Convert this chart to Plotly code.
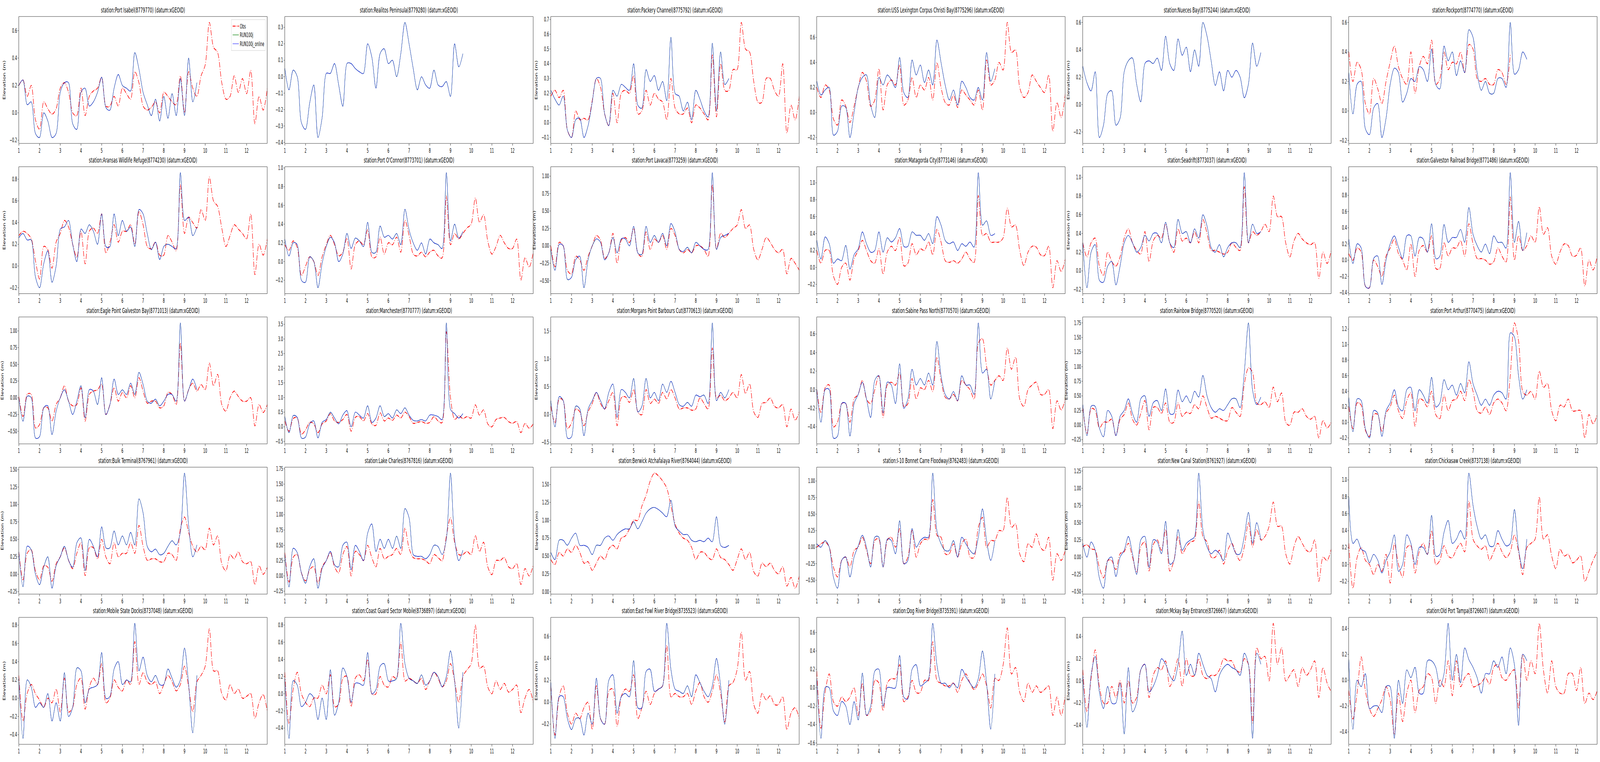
import plotly.graph_objects as go

# time axis (days), obs every 0.2 day up to day 13, model up to ~day 9.7
t_obs = [round(1 + 0.2 * i, 1) for i in range(61)]
t_mod = [round(1 + 0.2 * i, 1) for i in range(44)]

stations = [
    "station:Port Isabel(8779770) (datum:xGEOID)",
    "station:Realitos Peninsula(8779280) (datum:xGEOID)",
    "station:Packery Channel(8775792) (datum:xGEOID)",
    "station:USS Lexington Corpus Christi Bay(8775296) (datum:xGEOID)",
    "station:Nueces Bay(8775244) (datum:xGEOID)",
    "station:Rockport(8774770) (datum:xGEOID)",
    "station:Aransas Wildlife Refuge(8774230) (datum:xGEOID)",
    "station:Port O'Connor(8773701) (datum:xGEOID)",
    "station:Port Lavaca(8773259) (datum:xGEOID)",
    "station:Matagorda City(8773146) (datum:xGEOID)",
    "station:Seadrift(8773037) (datum:xGEOID)",
    "station:Galveston Railroad Bridge(8771486) (datum:xGEOID)",
    "station:Eagle Point Galveston Bay(8771013) (datum:xGEOID)",
    "station:Manchester(8770777) (datum:xGEOID)",
    "station:Morgans Point Barbours Cut(8770613) (datum:xGEOID)",
    "station:Sabine Pass North(8770570) (datum:xGEOID)",
    "station:Rainbow Bridge(8770520) (datum:xGEOID)",
    "station:Port Arthur(8770475) (datum:xGEOID)",
    "station:Bulk Terminal(8767961) (datum:xGEOID)",
    "station:Lake Charles(8767816) (datum:xGEOID)",
    "station:Berwick Atchafalaya River(8764044) (datum:xGEOID)",
    "station:I-10 Bonnet Carre Floodway(8762483) (datum:xGEOID)",
    "station:New Canal Station(8761927) (datum:xGEOID)",
    "station:Chickasaw Creek(8737138) (datum:xGEOID)",
    "station:Mobile State Docks(8737048) (datum:xGEOID)",
    "station:Coast Guard Sector Mobile(8736897) (datum:xGEOID)",
    "station:East Fowl River Bridge(8735523) (datum:xGEOID)",
    "station:Dog River Bridge(8735391) (datum:xGEOID)",
    "station:Mckay Bay Entrance(8726667) (datum:xGEOID)",
    "station:Old Port Tampa(8726607) (datum:xGEOID)",
]

# y tick step per panel
ytick_step = [0.2, 0.1, 0.1, 0.2, 0.2, 0.2,
              0.2, 0.2, 0.25, 0.2, 0.2, 0.2,
              0.25, 0.5, 0.5, 0.2, 0.25, 0.2,
              0.25, 0.25, 0.25, 0.25, 0.25, 0.2,
              0.2, 0.2, 0.2, 0.2, 0.2, 0.2]

port_isabel_obs = [0.20, 0.24, 0.12, 0.20, -0.05, -0.12, 0.08, 0.03, -0.01, 0.03,
                   0.18, 0.22, 0.15, 0.00, -0.02, 0.18, -0.02, 0.12, 0.16, 0.18,
                   0.26, 0.05, 0.05, 0.12, 0.05, 0.18, 0.14, 0.10, 0.30, 0.22,
                   0.05, 0.02, 0.04, 0.08, 0.00, 0.15, 0.12, 0.08, 0.06, 0.27,
                   0.00, 0.30, 0.18, 0.12, 0.27, 0.35, 0.66, 0.48, 0.44, 0.22,
                   0.10, 0.12, 0.27, 0.15, 0.25, 0.14, 0.31, -0.08, 0.12, 0.02,
                   0.18]
port_isabel_mod = [0.20, 0.24, 0.06, 0.08, -0.15, -0.18, 0.00, -0.06, -0.18, -0.15,
                   0.15, 0.22, 0.22, -0.08, -0.12, 0.15, 0.18, 0.05, 0.08, 0.15,
                   0.26, 0.04, 0.02, 0.18, 0.28, 0.20, 0.18, 0.16, 0.44, 0.32,
                   0.15, 0.06, -0.02, 0.10, -0.06, 0.12, -0.04, 0.14, -0.02, 0.25,
                   -0.02, 0.40, 0.08, 0.22]

realitos_obs = []
realitos_mod = [0.05, -0.08, 0.04, 0.00, -0.28, -0.32, -0.16, -0.05, -0.37, -0.25,
                0.02, 0.02, 0.08, -0.05, -0.18, 0.08, 0.08, 0.05, 0.03, 0.02,
                0.20, 0.12, -0.07, 0.14, 0.17, 0.08, 0.10, 0.00, 0.14, 0.33,
                0.20, 0.05, -0.08, 0.00, -0.05, -0.07, 0.04, -0.05, -0.06, -0.03,
                -0.12, 0.20, 0.06, 0.14]

packery_obs = [0.18, 0.22, 0.17, 0.22, -0.05, -0.10, 0.08, 0.02, 0.03, 0.02,
               0.15, 0.30, 0.24, 0.06, -0.02, 0.20, 0.00, 0.20, 0.22, 0.20,
               0.32, 0.06, 0.08, 0.22, 0.12, 0.20, 0.16, 0.14, 0.02, 0.30,
               0.10, 0.06, 0.06, 0.10, 0.00, 0.12, 0.10, 0.06, 0.02, 0.46,
               0.04, 0.40, 0.22, 0.22, 0.36, 0.36, 0.68, 0.50, 0.48, 0.28,
               0.14, 0.14, 0.30, 0.30, 0.22, 0.18, 0.40, -0.07, 0.12, 0.02,
               0.18]
packery_mod = [0.22, 0.16, 0.12, 0.18, -0.05, -0.10, 0.02, 0.03, -0.10, -0.02,
               0.14, 0.30, 0.30, 0.06, -0.02, 0.22, 0.18, 0.26, 0.24, 0.22,
               0.40, 0.12, 0.10, 0.36, 0.28, 0.32, 0.22, 0.28, 0.15, 0.58,
               0.20, 0.18, 0.08, 0.14, 0.02, 0.22, 0.16, 0.08, 0.04, 0.54,
               0.08, 0.48, 0.26, 0.30]

uss_obs = [0.20, 0.12, 0.22, 0.18, -0.05, -0.10, 0.10, 0.05, -0.08, 0.05,
           0.20, 0.32, 0.25, 0.05, 0.10, 0.35, 0.02, 0.22, 0.26, 0.22,
           0.38, 0.06, 0.10, 0.28, 0.12, 0.22, 0.18, 0.28, 0.10, 0.40,
           0.20, 0.08, 0.06, 0.14, 0.04, 0.18, 0.14, 0.10, 0.06, 0.18,
           0.02, 0.42, 0.22, 0.26, 0.40, 0.34, 0.72, 0.48, 0.50, 0.20,
           0.12, 0.16, 0.30, 0.25, 0.20, 0.16, 0.30, -0.15, 0.08, -0.04,
           0.15]
uss_mod = [0.25, 0.14, 0.18, 0.20, -0.18, -0.15, 0.05, 0.04, -0.20, 0.00,
           0.20, 0.28, 0.30, 0.06, -0.04, 0.28, 0.22, 0.30, 0.26, 0.20,
           0.44, 0.16, 0.12, 0.42, 0.30, 0.38, 0.24, 0.34, 0.22, 0.58,
           0.40, 0.22, 0.10, 0.18, 0.06, 0.25, 0.20, 0.12, 0.10, 0.20,
           0.10, 0.48, 0.25, 0.35]

nueces_obs = []
nueces_mod = [0.28, 0.16, 0.10, 0.24, -0.24, -0.15, 0.08, 0.10, -0.15, -0.10,
              0.24, 0.32, 0.34, 0.15, 0.02, 0.30, 0.32, 0.30, 0.34, 0.25,
              0.50, 0.30, 0.25, 0.48, 0.36, 0.42, 0.24, 0.40, 0.28, 0.60,
              0.50, 0.32, 0.14, 0.24, 0.10, 0.25, 0.20, 0.25, 0.20, 0.05,
              0.15, 0.45, 0.28, 0.38]

rockport_obs = [0.40, 0.20, 0.33, 0.28, 0.05, -0.02, 0.22, 0.15, 0.05, 0.20,
                0.33, 0.44, 0.30, 0.22, 0.18, 0.40, 0.12, 0.30, 0.37, 0.32,
                0.48, 0.18, 0.22, 0.40, 0.28, 0.33, 0.32, 0.40, 0.26, 0.45,
                0.42, 0.22, 0.20, 0.22, 0.18, 0.18, 0.28, 0.26, 0.18, 0.38]
rockport_mod = [0.26, -0.02, 0.18, 0.20, -0.12, -0.16, 0.02, 0.05, -0.18, -0.05,
                0.18, 0.29, 0.26, 0.06, 0.12, 0.22, 0.20, 0.30, 0.28, 0.20,
                0.42, 0.18, 0.15, 0.44, 0.34, 0.40, 0.24, 0.34, 0.26, 0.55,
                0.50, 0.26, 0.14, 0.20, 0.12, 0.12, 0.22, 0.22, 0.16, 0.60,
                0.25, 0.28, 0.40, 0.35]

aransas_obs = [0.28, 0.32, 0.30, 0.25, 0.05, -0.12, 0.18, 0.15, -0.02, 0.22,
               0.30, 0.42, 0.36, 0.20, 0.08, 0.32, 0.02, 0.32, 0.35, 0.30,
               0.48, 0.12, 0.22, 0.38, 0.22, 0.32, 0.32, 0.38, 0.20, 0.50,
               0.38, 0.18, 0.16, 0.22, 0.10, 0.10, 0.28, 0.22, 0.14, 0.75,
               0.30, 0.45, 0.40, 0.35, 0.52, 0.42, 0.82, 0.60, 0.55, 0.35,
               0.18, 0.28, 0.38, 0.34, 0.30, 0.25, 0.48, -0.08, 0.20, 0.10,
               0.25]
aransas_mod = [0.26, 0.30, 0.24, 0.24, -0.10, -0.20, 0.02, 0.14, -0.15, 0.00,
               0.34, 0.36, 0.42, 0.20, 0.04, 0.34, 0.30, 0.38, 0.32, 0.20,
               0.48, 0.18, 0.18, 0.48, 0.28, 0.42, 0.32, 0.36, 0.18, 0.52,
               0.48, 0.30, 0.15, 0.22, 0.06, 0.18, 0.20, 0.18, 0.16, 0.86,
               0.42, 0.45, 0.28, 0.36]

oconnor_obs = [0.18, 0.12, 0.22, 0.15, -0.15, -0.05, 0.05, 0.00, -0.15, 0.05,
               0.18, 0.28, 0.18, 0.06, 0.10, 0.25, -0.08, 0.18, 0.22, 0.18,
               0.34, 0.05, 0.05, 0.26, 0.08, 0.20, 0.18, 0.26, 0.10, 0.44,
               0.28, 0.08, 0.06, 0.10, 0.05, 0.10, 0.12, 0.06, 0.04, 0.70,
               0.18, 0.30, 0.24, 0.30, 0.36, 0.40, 0.68, 0.42, 0.50, 0.22,
               0.08, 0.16, 0.28, 0.20, 0.14, 0.14, 0.24, -0.20, 0.04, -0.06,
               0.10]
oconnor_mod = [0.24, 0.06, 0.20, 0.18, -0.20, -0.22, 0.05, 0.00, -0.28, -0.02,
               0.16, 0.26, 0.20, 0.00, 0.08, 0.30, 0.14, 0.25, 0.22, 0.16,
               0.42, 0.10, 0.10, 0.38, 0.26, 0.28, 0.24, 0.30, 0.18, 0.56,
               0.34, 0.20, 0.12, 0.20, 0.08, 0.24, 0.20, 0.18, 0.14, 0.95,
               0.22, 0.40, 0.25, 0.32]

lavaca_obs = [0.00, -0.30, 0.05, 0.00, -0.35, -0.40, -0.15, -0.20, -0.35, -0.15,
              0.00, 0.15, 0.08, -0.18, -0.10, 0.18, -0.25, 0.08, 0.12, 0.05,
              0.25, -0.10, -0.15, 0.20, -0.05, 0.10, 0.05, 0.15, -0.05, 0.25,
              0.15, -0.05, -0.10, -0.05, -0.10, 0.00, 0.00, -0.05, -0.15, 0.88,
              -0.05, 0.18, 0.12, 0.18, 0.25, 0.30, 0.52, 0.25, 0.30, -0.05,
              -0.20, -0.05, 0.12, 0.05, -0.05, -0.10, -0.05, -0.40, -0.18, -0.25,
              -0.35]
lavaca_mod = [-0.05, -0.35, 0.02, 0.00, -0.48, -0.45, -0.20, -0.15, -0.60, -0.20,
              0.00, 0.10, 0.05, -0.20, -0.10, 0.12, -0.10, 0.10, 0.10, 0.00,
              0.28, -0.10, -0.12, 0.28, 0.05, 0.15, 0.05, 0.18, 0.00, 0.32,
              0.20, -0.05, -0.08, -0.02, -0.10, 0.05, 0.00, -0.05, -0.05, 1.05,
              -0.05, 0.12, 0.15, 0.18]

matagorda_obs = [0.20, 0.05, 0.20, 0.20, -0.10, -0.20, 0.00, 0.05, -0.15, 0.10,
                 0.20, 0.32, 0.20, 0.08, 0.05, 0.22, -0.08, 0.18, 0.25, 0.20,
                 0.36, 0.02, 0.05, 0.28, 0.15, 0.22, 0.20, 0.30, 0.15, 0.45,
                 0.30, 0.08, 0.06, 0.08, 0.05, 0.10, 0.18, 0.10, 0.06, 0.85,
                 0.38, 0.40, 0.30, 0.30, 0.30, 0.35, 0.70, 0.48, 0.50, 0.20,
                 0.02, 0.18, 0.25, 0.24, 0.15, 0.14, 0.25, -0.24, 0.08, -0.05,
                 0.10]
matagorda_mod = [0.32, 0.10, 0.36, 0.28, 0.05, 0.10, 0.08, 0.26, -0.02, 0.15,
                 0.22, 0.42, 0.28, 0.18, 0.20, 0.42, 0.18, 0.35, 0.30, 0.35,
                 0.46, 0.25, 0.25, 0.42, 0.38, 0.38, 0.32, 0.40, 0.28, 0.60,
                 0.50, 0.32, 0.28, 0.30, 0.20, 0.28, 0.25, 0.30, 0.24, 1.12,
                 0.50, 0.55, 0.38, 0.40]

seadrift_obs = [0.30, 0.15, 0.30, 0.35, 0.05, -0.05, 0.20, 0.10, 0.05, 0.15,
                0.35, 0.45, 0.30, 0.22, 0.18, 0.42, 0.10, 0.32, 0.38, 0.35,
                0.50, 0.30, 0.20, 0.45, 0.32, 0.35, 0.30, 0.42, 0.30, 0.55,
                0.40, 0.22, 0.22, 0.20, 0.18, 0.20, 0.30, 0.25, 0.22, 0.90,
                0.30, 0.42, 0.38, 0.42, 0.50, 0.42, 0.80, 0.58, 0.58, 0.30,
                0.15, 0.32, 0.40, 0.34, 0.30, 0.28, 0.30, -0.08, 0.20, 0.08,
                0.22]
seadrift_mod = [0.30, -0.18, 0.20, 0.28, -0.10, -0.12, 0.05, 0.10, -0.15, 0.05,
                0.30, 0.38, 0.30, 0.20, 0.25, 0.38, 0.32, 0.40, 0.40, 0.30,
                0.52, 0.30, 0.25, 0.55, 0.40, 0.42, 0.30, 0.45, 0.35, 0.60,
                0.48, 0.25, 0.20, 0.28, 0.15, 0.25, 0.30, 0.30, 0.25, 1.05,
                0.30, 0.50, 0.40, 0.42]

galveston_obs = [0.08, 0.00, 0.15, 0.10, -0.32, -0.34, 0.00, -0.08, -0.20, 0.05,
                 0.15, 0.26, 0.08, 0.00, -0.12, 0.20, -0.20, 0.12, 0.18, 0.10,
                 0.30, -0.10, -0.10, 0.22, 0.05, 0.15, 0.15, 0.24, 0.05, 0.45,
                 0.20, 0.02, 0.02, 0.00, -0.05, -0.02, 0.15, 0.05, -0.02, 0.78,
                 0.00, 0.30, 0.12, 0.18, 0.30, 0.22, 0.66, 0.32, 0.40, 0.05,
                 -0.05, 0.10, 0.20, 0.18, 0.05, 0.06, 0.15, -0.32, 0.00, -0.12,
                 0.05]
galveston_mod = [0.26, -0.04, 0.20, 0.15, -0.32, -0.34, 0.02, 0.05, -0.30, 0.00,
                 0.20, 0.30, 0.16, 0.02, 0.30, 0.30, 0.05, 0.28, 0.26, 0.10,
                 0.45, 0.02, 0.05, 0.44, 0.22, 0.28, 0.28, 0.38, 0.22, 0.65,
                 0.32, 0.18, 0.10, 0.20, 0.08, 0.30, 0.22, 0.22, 0.15, 1.08,
                 0.22, 0.48, 0.12, 0.34]

eagle_obs = [0.02, -0.28, 0.05, 0.05, -0.45, -0.40, -0.15, -0.15, -0.35, -0.10,
             0.00, 0.18, -0.05, -0.12, -0.10, 0.15, -0.35, 0.05, 0.10, 0.12,
             0.20, -0.25, -0.10, 0.15, -0.05, 0.08, 0.00, 0.18, 0.00, 0.30,
             0.10, -0.08, -0.05, -0.05, -0.15, -0.12, 0.08, 0.05, -0.10, 0.82,
             -0.05, 0.12, 0.22, 0.10, 0.20, 0.12, 0.52, 0.18, 0.35, -0.10,
             -0.20, 0.00, 0.10, 0.02, -0.05, -0.05, 0.00, -0.42, -0.10, -0.22,
             -0.10]
eagle_mod = [0.00, -0.35, 0.02, 0.00, -0.60, -0.58, -0.15, -0.12, -0.55, -0.20,
             0.00, 0.12, -0.05, -0.25, -0.05, 0.18, -0.30, 0.12, 0.10, -0.10,
             0.30, -0.25, -0.10, 0.28, 0.05, 0.12, 0.05, 0.22, 0.05, 0.38,
             0.20, -0.05, -0.08, -0.02, -0.12, -0.05, 0.05, 0.05, -0.05, 1.12,
             -0.05, 0.12, 0.28, 0.12]

manchester_obs = [0.20, -0.15, 0.28, 0.30, -0.25, -0.10, 0.15, 0.10, -0.20, 0.10,
                  0.20, 0.45, 0.20, 0.15, 0.25, 0.42, -0.15, 0.32, 0.35, 0.20,
                  0.45, 0.10, 0.05, 0.48, 0.20, 0.30, 0.22, 0.40, 0.30, 0.50,
                  0.35, 0.12, 0.15, 0.18, 0.12, 0.15, 0.35, 0.20, 0.15, 3.25,
                  1.00, 0.25, 0.38, 0.28, 0.35, 0.30, 0.75, 0.40, 0.58, 0.10,
                  0.00, 0.25, 0.30, 0.32, 0.18, 0.12, 0.18, -0.20, 0.12, -0.05,
                  0.10]
manchester_mod = [0.35, -0.20, 0.38, 0.32, -0.38, -0.35, 0.10, 0.20, -0.38, 0.15,
                  0.25, 0.50, 0.30, 0.10, 0.40, 0.55, 0.00, 0.50, 0.40, 0.30,
                  0.72, 0.15, 0.30, 0.72, 0.35, 0.45, 0.30, 0.58, 0.45, 0.65,
                  0.40, 0.22, 0.20, 0.25, 0.20, 0.40, 0.40, 0.35, 0.25, 3.55,
                  0.60, 0.45, 0.30, 0.45]

morgans_obs = [0.15, -0.15, 0.28, 0.25, -0.25, -0.15, 0.10, 0.05, -0.20, 0.05,
               0.20, 0.40, 0.20, 0.10, 0.25, 0.40, -0.20, 0.30, 0.32, 0.22,
               0.45, 0.05, 0.00, 0.45, 0.20, 0.28, 0.20, 0.40, 0.28, 0.45,
               0.30, 0.10, 0.12, 0.12, 0.08, 0.10, 0.30, 0.20, 0.10, 1.20,
               0.30, 0.35, 0.25, 0.30, 0.40, 0.30, 0.72, 0.38, 0.55, 0.05,
               -0.05, 0.20, 0.22, 0.30, 0.15, 0.12, 0.18, -0.22, 0.10, -0.10,
               0.05]
morgans_mod = [0.25, -0.22, 0.32, 0.25, -0.42, -0.40, 0.15, 0.10, -0.38, 0.10,
               0.25, 0.40, 0.25, 0.10, 0.40, 0.55, -0.05, 0.45, 0.40, 0.30,
               0.65, 0.05, 0.15, 0.65, 0.30, 0.40, 0.25, 0.55, 0.40, 0.60,
               0.40, 0.18, 0.15, 0.22, 0.15, 0.35, 0.32, 0.35, 0.20, 1.65,
               0.25, 0.40, 0.30, 0.45]

sabine_obs = [0.00, -0.25, 0.02, 0.05, -0.40, -0.35, -0.15, -0.15, -0.35, -0.10,
              -0.05, 0.10, -0.10, -0.15, 0.00, 0.15, -0.30, 0.05, 0.08, 0.05,
              0.18, -0.18, -0.15, 0.12, -0.10, 0.02, 0.00, 0.10, -0.02, 0.35,
              0.10, -0.08, -0.10, -0.05, -0.12, 0.10, 0.05, 0.00, -0.10, 0.50,
              0.55, 0.25, 0.05, 0.10, 0.15, 0.10, 0.45, 0.22, 0.35, -0.10,
              -0.18, 0.00, 0.05, 0.08, -0.05, -0.05, 0.00, -0.42, -0.12, -0.22,
              -0.10]
sabine_mod = [0.00, -0.35, 0.00, 0.00, -0.52, -0.50, -0.15, -0.15, -0.50, -0.15,
              -0.05, 0.08, -0.10, -0.30, 0.10, 0.15, -0.25, 0.08, 0.05, -0.15,
              0.28, -0.20, -0.10, 0.22, 0.05, 0.12, 0.05, 0.18, 0.05, 0.52,
              0.15, -0.05, -0.10, -0.02, -0.12, 0.15, 0.05, 0.05, -0.05, 0.72,
              0.18, 0.22, -0.10, 0.10]

rainbow_obs = [0.30, -0.15, 0.28, 0.25, -0.05, 0.05, 0.05, 0.10, -0.18, 0.10,
               0.18, 0.38, 0.10, 0.00, 0.20, 0.42, -0.08, 0.30, 0.30, 0.20,
               0.38, 0.05, 0.05, 0.38, 0.15, 0.22, 0.20, 0.35, 0.28, 0.50,
               0.30, 0.12, 0.15, 0.12, 0.08, 0.08, 0.30, 0.22, 0.15, 0.70,
               0.98, 0.90, 0.38, 0.35, 0.40, 0.30, 0.65, 0.40, 0.55, 0.05,
               0.00, 0.22, 0.22, 0.28, 0.15, 0.10, 0.15, -0.22, 0.08, -0.05,
               0.05]
rainbow_mod = [0.35, -0.18, 0.32, 0.32, -0.05, -0.20, 0.25, 0.15, -0.18, 0.15,
               0.25, 0.45, 0.20, 0.05, 0.45, 0.50, 0.15, 0.38, 0.42, 0.25,
               0.62, 0.20, 0.20, 0.60, 0.40, 0.50, 0.38, 0.58, 0.48, 0.85,
               0.50, 0.30, 0.22, 0.28, 0.25, 0.35, 0.45, 0.45, 0.30, 0.90,
               1.75, 0.60, 0.35, 0.48]

port_arthur_obs = [0.20, -0.08, 0.25, 0.22, -0.10, -0.18, 0.10, 0.10, -0.12, 0.12,
                   0.20, 0.35, 0.15, 0.05, 0.28, 0.38, -0.05, 0.30, 0.28, 0.20,
                   0.40, 0.10, 0.05, 0.35, 0.15, 0.28, 0.30, 0.40, 0.28, 0.55,
                   0.40, 0.15, 0.12, 0.20, 0.10, 0.25, 0.30, 0.25, 0.15, 0.60,
                   1.28, 1.05, 0.40, 0.35, 0.40, 0.30, 0.66, 0.45, 0.50, 0.15,
                   0.02, 0.22, 0.20, 0.30, 0.15, 0.15, 0.15, -0.20, 0.10, -0.02,
                   0.10]
port_arthur_mod = [0.32, -0.12, 0.30, 0.28, -0.08, -0.20, 0.15, 0.12, -0.18, 0.15,
                   0.25, 0.42, 0.20, 0.15, 0.42, 0.45, 0.15, 0.42, 0.35, 0.25,
                   0.58, 0.20, 0.25, 0.55, 0.42, 0.48, 0.35, 0.50, 0.38, 0.78,
                   0.50, 0.35, 0.22, 0.30, 0.22, 0.35, 0.40, 0.38, 0.30, 1.15,
                   1.10, 0.60, 0.30, 0.42]

bulk_obs = [0.32, -0.08, 0.30, 0.35, 0.05, -0.08, 0.12, 0.10, -0.10, 0.15,
            0.25, 0.38, 0.20, 0.08, 0.30, 0.45, -0.02, 0.38, 0.38, 0.22,
            0.50, 0.25, 0.15, 0.45, 0.25, 0.30, 0.30, 0.45, 0.30, 0.70,
            0.40, 0.20, 0.22, 0.22, 0.18, 0.18, 0.30, 0.28, 0.20, 0.65,
            0.82, 0.60, 0.40, 0.32, 0.40, 0.35, 0.66, 0.42, 0.55, 0.15,
            0.05, 0.28, 0.22, 0.32, 0.18, 0.15, 0.18, -0.15, 0.12, 0.00,
            0.10]
bulk_mod = [0.32, -0.18, 0.40, 0.35, 0.00, -0.15, 0.10, 0.25, -0.20, 0.12,
            0.25, 0.40, 0.20, 0.10, 0.45, 0.52, 0.05, 0.50, 0.40, 0.25,
            0.68, 0.38, 0.38, 0.62, 0.42, 0.55, 0.42, 0.60, 0.42, 1.08,
            0.88, 0.40, 0.32, 0.36, 0.28, 0.30, 0.40, 0.48, 0.42, 0.60,
            1.45, 0.70, 0.25, 0.42]

lake_charles_obs = [0.38, -0.10, 0.30, 0.35, 0.05, -0.08, 0.10, 0.15, -0.12, 0.15,
                    0.25, 0.38, 0.15, 0.05, 0.35, 0.48, 0.00, 0.40, 0.35, 0.25,
                    0.50, 0.30, 0.15, 0.45, 0.28, 0.32, 0.35, 0.45, 0.35, 0.78,
                    0.45, 0.30, 0.28, 0.28, 0.25, 0.20, 0.35, 0.30, 0.25, 0.65,
                    0.95, 0.55, 0.35, 0.35, 0.40, 0.35, 0.66, 0.40, 0.55, 0.15,
                    0.02, 0.25, 0.25, 0.30, 0.15, 0.12, 0.20, -0.14, 0.12, 0.00,
                    0.18]
lake_charles_mod = [0.35, -0.18, 0.45, 0.38, 0.05, -0.12, 0.15, 0.28, -0.20, 0.12,
                    0.25, 0.40, 0.18, 0.15, 0.50, 0.55, 0.10, 0.50, 0.40, 0.25,
                    0.70, 0.85, 0.40, 0.60, 0.45, 0.60, 0.45, 0.65, 0.45, 1.10,
                    0.95, 0.35, 0.32, 0.32, 0.28, 0.35, 0.50, 0.48, 0.35, 0.60,
                    1.68, 0.60, 0.25, 0.42]

berwick_obs = [0.45, 0.38, 0.55, 0.50, 0.60, 0.55, 0.65, 0.55, 0.40, 0.42,
               0.30, 0.40, 0.50, 0.45, 0.60, 0.65, 0.60, 0.75, 0.78, 0.88,
               1.00, 1.00, 1.20, 1.35, 1.55, 1.66, 1.62, 1.55, 1.45, 1.20,
               0.95, 0.82, 0.75, 0.72, 0.62, 0.45, 0.55, 0.55, 0.48, 0.45,
               0.60, 0.48, 0.45, 0.38, 0.30, 0.45, 0.60, 0.45, 0.55, 0.28,
               0.22, 0.40, 0.35, 0.40, 0.30, 0.25, 0.35, 0.08, 0.20, 0.05,
               0.22]
berwick_mod = [0.55, 0.45, 0.72, 0.72, 0.65, 0.75, 0.82, 0.65, 0.65, 0.62,
               0.52, 0.65, 0.65, 0.75, 0.78, 0.72, 0.80, 0.85, 0.88, 0.88,
               0.98, 0.88, 0.98, 1.10, 1.16, 1.18, 1.15, 1.10, 1.05, 1.28,
               0.92, 0.85, 0.80, 0.80, 0.72, 0.70, 0.72, 0.70, 0.75, 0.70,
               1.05, 0.65, 0.62, 0.65]

bonnet_carre_obs = [0.00, 0.05, 0.08, 0.00, -0.30, -0.45, -0.20, -0.15, -0.30, -0.05,
                    0.00, 0.15, -0.05, -0.25, 0.10, 0.12, -0.30, 0.10, 0.15, 0.00,
                    0.28, -0.25, -0.15, 0.25, -0.15, 0.05, 0.12, 0.12, 0.72, 0.18,
                    0.15, -0.10, -0.10, 0.05, -0.15, 0.05, 0.12, -0.15, -0.15, 0.30,
                    0.45, 0.00, 0.10, 0.10, 0.25, 0.25, 0.75, 0.30, 0.35, -0.10,
                    -0.22, 0.05, 0.00, 0.20, 0.00, -0.05, 0.15, -0.50, -0.10, -0.20,
                    -0.05]
bonnet_carre_mod = [0.05, 0.00, 0.10, 0.00, -0.45, -0.62, -0.20, -0.15, -0.45, -0.15,
                    0.02, 0.18, 0.00, -0.30, 0.15, 0.15, -0.30, 0.12, 0.10, -0.10,
                    0.40, -0.25, -0.20, 0.28, 0.00, 0.10, 0.15, 0.15, 1.12, 0.25,
                    0.05, -0.05, -0.05, 0.10, -0.15, 0.15, 0.05, -0.05, -0.10, 0.15,
                    0.58, 0.10, -0.20, 0.10]

new_canal_obs = [0.15, 0.18, 0.12, 0.10, -0.15, -0.30, -0.05, -0.05, -0.18, 0.05,
                 0.08, 0.20, 0.00, -0.22, 0.15, 0.22, -0.20, 0.18, 0.25, 0.10,
                 0.40, -0.20, -0.05, 0.30, 0.05, 0.15, 0.22, 0.25, 0.80, 0.30,
                 0.22, 0.00, 0.00, 0.10, -0.10, 0.10, 0.20, 0.05, -0.05, 0.15,
                 0.50, 0.15, 0.40, 0.25, 0.30, 0.45, 0.80, 0.45, 0.45, 0.05,
                 -0.10, 0.15, 0.30, 0.20, 0.10, 0.08, 0.25, -0.35, 0.00, -0.05,
                 0.12]
new_canal_mod = [0.20, 0.00, 0.22, 0.10, -0.30, -0.45, -0.05, 0.00, -0.28, 0.00,
                 0.10, 0.30, 0.05, -0.25, 0.25, 0.30, -0.15, 0.25, 0.22, 0.05,
                 0.52, -0.10, -0.05, 0.40, 0.10, 0.20, 0.25, 0.30, 1.22, 0.40,
                 0.15, 0.05, 0.10, 0.05, -0.05, 0.35, 0.20, 0.05, 0.05, 0.30,
                 0.65, 0.20, 0.50, 0.25]

chickasaw_obs = [0.25, -0.28, 0.08, 0.20, 0.05, 0.00, -0.12, 0.00, -0.08, 0.12,
                 -0.22, 0.25, 0.00, -0.15, 0.20, 0.22, -0.10, 0.15, 0.25, 0.12,
                 0.40, 0.00, 0.05, 0.22, 0.10, 0.08, 0.18, 0.25, 0.15, 0.75,
                 0.30, 0.22, 0.18, 0.22, 0.05, 0.15, 0.25, 0.15, 0.08, 0.15,
                 0.35, 0.15, -0.12, 0.20, 0.25, 0.30, 0.80, 0.30, 0.35, 0.10,
                 -0.05, 0.18, 0.10, 0.12, 0.02, 0.05, 0.10, -0.20, -0.08, 0.05,
                 0.15]
chickasaw_mod = [0.80, 0.25, 0.30, 0.18, 0.15, 0.02, 0.12, 0.05, -0.10, 0.05,
                 0.15, 0.35, -0.08, 0.00, 0.35, 0.25, 0.00, 0.20, 0.20, 0.12,
                 0.58, 0.10, 0.12, 0.38, 0.52, 0.25, 0.30, 0.40, 0.30, 1.08,
                 0.70, 0.45, 0.30, 0.35, 0.22, 0.22, 0.40, 0.30, 0.22, 0.25,
                 0.65, 0.18, -0.05, 0.30]

mobile_docks_obs = [0.25, -0.25, 0.05, 0.15, 0.05, -0.02, -0.10, 0.00, -0.05, 0.10,
                    -0.15, 0.22, -0.15, -0.10, 0.15, 0.22, -0.12, 0.12, 0.22, 0.15,
                    0.38, -0.05, 0.00, 0.20, 0.12, 0.08, 0.20, 0.15, 0.62, 0.15,
                    0.28, 0.18, 0.15, 0.18, 0.05, 0.15, 0.25, 0.18, 0.08, 0.15,
                    0.35, 0.12, -0.15, 0.18, 0.25, 0.35, 0.76, 0.30, 0.30, 0.05,
                    -0.02, 0.15, 0.05, 0.10, 0.00, 0.02, 0.05, -0.22, -0.05, 0.04,
                    -0.15]
mobile_docks_mod = [0.22, -0.44, 0.20, 0.12, -0.10, -0.05, -0.10, 0.05, -0.25, -0.05,
                    -0.25, 0.28, -0.20, -0.10, 0.33, 0.30, -0.05, 0.10, 0.12, 0.15,
                    0.50, 0.00, 0.02, 0.32, 0.40, 0.15, 0.20, 0.18, 0.82, 0.30,
                    0.45, 0.25, 0.18, 0.25, 0.15, 0.15, 0.32, 0.22, 0.12, 0.20,
                    0.55, 0.15, -0.38, 0.25]

coast_guard_obs = [0.25, -0.35, 0.05, 0.25, 0.00, -0.10, -0.15, -0.05, -0.05, 0.10,
                   0.00, 0.22, -0.15, -0.12, 0.18, 0.20, -0.15, 0.18, 0.22, 0.15,
                   0.40, 0.00, 0.00, 0.20, 0.10, 0.08, 0.20, 0.18, 0.60, 0.15,
                   0.18, 0.15, 0.12, 0.18, 0.05, 0.15, 0.25, 0.18, 0.08, 0.15,
                   0.35, 0.15, -0.10, 0.20, 0.28, 0.35, 0.80, 0.30, 0.32, 0.08,
                   0.00, 0.15, 0.05, 0.12, 0.02, 0.05, 0.10, -0.22, -0.05, 0.05,
                   -0.10]
coast_guard_mod = [0.18, -0.52, 0.15, 0.10, -0.15, -0.10, 0.00, -0.05, -0.30, -0.05,
                   -0.30, 0.28, -0.25, -0.10, 0.30, 0.20, -0.10, 0.12, 0.12, 0.10,
                   0.48, 0.00, 0.05, 0.32, 0.35, 0.15, 0.15, 0.18, 0.82, 0.35,
                   0.18, 0.15, 0.12, 0.22, 0.10, 0.15, 0.25, 0.20, 0.08, 0.20,
                   0.50, 0.15, -0.40, 0.25]

east_fowl_obs = [0.15, -0.30, 0.05, 0.15, -0.10, -0.20, -0.10, -0.15, -0.05, 0.00,
                 -0.25, 0.15, -0.15, -0.20, 0.10, 0.12, -0.22, 0.05, 0.12, 0.10,
                 0.25, -0.15, -0.05, 0.10, -0.02, 0.08, 0.12, 0.15, 0.52, 0.05,
                 0.08, 0.05, 0.05, 0.08, -0.02, 0.10, 0.18, 0.05, 0.00, 0.10,
                 0.25, 0.08, -0.18, 0.15, 0.18, 0.30, 0.64, 0.20, 0.28, -0.02,
                 -0.10, 0.08, 0.02, 0.06, -0.02, -0.02, 0.05, -0.25, -0.10, -0.05,
                 -0.15]
east_fowl_mod = [0.18, -0.33, 0.05, 0.05, -0.15, -0.25, -0.15, -0.15, -0.30, -0.10,
                 -0.20, 0.22, -0.15, -0.20, 0.20, 0.25, -0.10, 0.05, 0.08, 0.05,
                 0.38, -0.05, -0.05, 0.28, 0.30, 0.10, 0.12, 0.15, 0.72, 0.30,
                 0.12, 0.10, 0.08, 0.15, 0.05, 0.25, 0.18, 0.10, 0.05, 0.15,
                 0.40, 0.15, -0.20, 0.20]

dog_river_obs = [0.18, -0.44, -0.05, 0.15, -0.15, -0.20, -0.10, -0.15, -0.10, 0.00,
                 -0.30, 0.05, -0.30, -0.25, 0.08, 0.05, -0.25, 0.05, 0.10, 0.10,
                 0.25, -0.15, -0.10, 0.08, -0.05, -0.05, 0.08, 0.08, 0.50, 0.08,
                 0.05, 0.02, 0.02, 0.05, -0.05, 0.08, 0.15, 0.05, -0.02, 0.05,
                 0.15, 0.02, -0.22, 0.10, 0.08, 0.25, 0.65, 0.15, 0.22, -0.05,
                 -0.15, 0.05, -0.05, 0.02, -0.05, -0.02, 0.02, -0.30, -0.10, -0.30,
                 -0.08]
dog_river_mod = [0.10, -0.55, 0.00, 0.00, -0.25, -0.30, -0.15, -0.20, -0.40, -0.15,
                 -0.35, 0.16, -0.30, -0.20, 0.18, 0.20, -0.20, 0.00, 0.00, 0.00,
                 0.35, -0.10, -0.12, 0.20, 0.25, 0.02, 0.05, 0.10, 0.70, 0.25,
                 0.05, 0.05, 0.00, 0.05, 0.00, 0.20, 0.12, 0.05, 0.00, 0.10,
                 0.40, 0.05, -0.45, 0.15]

mckay_obs = [0.10, -0.28, 0.02, 0.28, -0.05, -0.20, -0.20, -0.05, -0.15, 0.00,
             -0.20, 0.00, -0.20, -0.15, 0.10, 0.15, -0.15, 0.05, 0.12, 0.10,
             0.18, -0.05, 0.05, 0.20, -0.05, 0.20, 0.05, 0.05, 0.20, 0.05,
             0.02, 0.05, 0.05, 0.10, 0.20, 0.18, 0.18, 0.10, 0.08, 0.20,
             0.15, -0.38, 0.30, 0.20, 0.22, 0.00, 0.52, 0.15, 0.30, 0.00,
             0.05, 0.10, -0.05, 0.12, 0.05, 0.10, 0.18, -0.15, 0.12, -0.02,
             -0.10]
mckay_mod = [0.05, -0.42, 0.05, 0.22, -0.10, -0.25, -0.05, -0.20, -0.20, -0.02,
             -0.48, 0.12, -0.28, -0.20, 0.10, 0.15, -0.10, -0.05, 0.05, 0.20,
             0.15, 0.05, 0.00, 0.15, 0.45, 0.05, 0.15, 0.05, 0.25, 0.15,
             0.05, 0.02, -0.10, 0.05, 0.12, 0.15, 0.12, 0.10, 0.05, 0.25,
             0.15, -0.52, 0.25, 0.15]

old_port_tampa_obs = [-0.08, -0.30, -0.10, 0.18, -0.08, -0.22, -0.28, -0.22, -0.15, -0.05,
                      -0.15, -0.42, -0.10, -0.32, -0.10, 0.00, -0.25, -0.08, -0.05, 0.05,
                      0.02, -0.18, 0.00, -0.05, 0.15, -0.12, 0.15, -0.05, 0.02, 0.05,
                      -0.05, -0.04, -0.02, 0.02, -0.03, 0.10, 0.12, 0.02, 0.00, 0.05,
                      0.08, -0.22, 0.20, 0.00, 0.15, 0.05, 0.44, 0.08, -0.10, 0.15,
                      -0.05, -0.10, -0.10, 0.05, 0.05, -0.08, 0.10, -0.18, -0.10, -0.15,
                      -0.08]
old_port_tampa_mod = [0.16, -0.38, 0.00, -0.05, 0.05, -0.22, -0.20, -0.20, -0.25, -0.05,
                      -0.05, -0.45, 0.00, -0.18, 0.08, 0.02, 0.10, -0.10, -0.10, 0.15,
                      0.15, 0.10, -0.05, 0.05, 0.44, 0.00, 0.20, -0.02, 0.25, 0.16,
                      0.10, 0.02, -0.10, 0.05, 0.05, 0.15, 0.10, 0.18, 0.05, 0.25,
                      0.12, -0.35, 0.20, 0.15]

obs_series = [port_isabel_obs, realitos_obs, packery_obs, uss_obs, nueces_obs, rockport_obs,
              aransas_obs, oconnor_obs, lavaca_obs, matagorda_obs, seadrift_obs, galveston_obs,
              eagle_obs, manchester_obs, morgans_obs, sabine_obs, rainbow_obs, port_arthur_obs,
              bulk_obs, lake_charles_obs, berwick_obs, bonnet_carre_obs, new_canal_obs, chickasaw_obs,
              mobile_docks_obs, coast_guard_obs, east_fowl_obs, dog_river_obs, mckay_obs,
              old_port_tampa_obs]
mod_series = [port_isabel_mod, realitos_mod, packery_mod, uss_mod, nueces_mod, rockport_mod,
              aransas_mod, oconnor_mod, lavaca_mod, matagorda_mod, seadrift_mod, galveston_mod,
              eagle_mod, manchester_mod, morgans_mod, sabine_mod, rainbow_mod, port_arthur_mod,
              bulk_mod, lake_charles_mod, berwick_mod, bonnet_carre_mod, new_canal_mod, chickasaw_mod,
              mobile_docks_mod, coast_guard_mod, east_fowl_mod, dog_river_mod, mckay_mod,
              old_port_tampa_mod]

#%% figure
W, H = 7800, 1950
FONT = "DejaVu Sans"
TICK = 15
col_left, col_pitch, ax_w = 87, 1297.5, 1211
row_top, row_pitch, ax_h = 37, 387, 326

fig = go.Figure()
layout = dict(
    width=W, height=H,
    margin=dict(l=0, r=0, t=0, b=0),
    paper_bgcolor="white", plot_bgcolor="white",
    font=dict(family=FONT, size=TICK, color="black"),
    annotations=[],
    legend=dict(x=1290 / W, y=1 - 44 / H, xanchor="right", yanchor="top",
                bgcolor="rgba(255,255,255,0.8)", bordercolor="#cccccc", borderwidth=1,
                font=dict(family=FONT, size=TICK), tracegroupgap=2),
)

for k, title in enumerate(stations):
    r, c = divmod(k, 6)
    n = k + 1
    xs = "" if n == 1 else str(n)
    x0 = (col_left + c * col_pitch) / W
    x1 = (col_left + c * col_pitch + ax_w) / W
    y1 = 1 - (row_top + r * row_pitch) / H
    y0 = 1 - (row_top + r * row_pitch + ax_h) / H

    obs = obs_series[k]
    mod = mod_series[k]
    first = k == 0

    if obs:
        fig.add_trace(go.Scatter(
            x=t_obs[:len(obs)], y=obs, mode="lines", name="Obs",
            line=dict(color="#ff0000", width=2.2, dash="14px,4px,2px,4px",
                      shape="spline", smoothing=0.9),
            xaxis="x" + xs, yaxis="y" + xs, showlegend=first))
    fig.add_trace(go.Scatter(
        x=t_mod[:len(mod)], y=mod, mode="lines", name="RUN100j",
        line=dict(color="#008000", width=1.2, shape="spline", smoothing=0.9),
        xaxis="x" + xs, yaxis="y" + xs, showlegend=first))
    fig.add_trace(go.Scatter(
        x=t_mod[:len(mod)], y=mod, mode="lines", name="RUN100j_online",
        line=dict(color="#0000ff", width=1.1, shape="spline", smoothing=0.9),
        xaxis="x" + xs, yaxis="y" + xs, showlegend=first))

    vals = obs + mod
    lo, hi = min(vals), max(vals)
    pad = 0.05 * (hi - lo)
    step = ytick_step[k]
    fmt = ".2f" if step == 0.25 else ".1f"

    axis_common = dict(showline=True, linecolor="black", linewidth=1, mirror=True,
                       ticks="outside", ticklen=5, tickcolor="black", showgrid=False,
                       zeroline=False, tickfont=dict(family=FONT, size=TICK))
    layout["xaxis" + xs] = dict(axis_common, domain=[x0, x1], anchor="y" + xs,
                                range=[1, 12.99], tickvals=list(range(1, 13)))
    yax = dict(axis_common, domain=[y0, y1], anchor="x" + xs,
               range=[lo - pad, hi + pad], tick0=0, dtick=step, tickformat=fmt)
    if c % 2 == 0:
        yax["title"] = dict(text="Elevation (m)", font=dict(family=FONT, size=TICK))
    layout["yaxis" + xs] = yax

    layout["annotations"].append(dict(
        text=title, x=(x0 + x1) / 2, y=y1, xref="paper", yref="paper",
        xanchor="center", yanchor="bottom", yshift=5, showarrow=False,
        font=dict(family=FONT, size=18, color="black")))

fig.update_layout(layout)

# fit the 7800x1950 figure into whatever css viewport the browser reports
fit_js = """
var gd = document.getElementById('{plot_id}');
[document.documentElement, document.body].forEach(function(el){
  el.style.margin = '0'; el.style.padding = '0'; el.style.overflow = 'hidden';
});
var sx = window.innerWidth / 7800, sy = window.innerHeight / 1950;
gd.style.position = 'absolute';
gd.style.left = '0px';
gd.style.top = '0px';
gd.style.transformOrigin = '0 0';
gd.style.transform = 'scale(' + sx + ',' + sy + ')';
"""
fig.write_html("out.html", post_script=fit_js, config={"displayModeBar": False})
